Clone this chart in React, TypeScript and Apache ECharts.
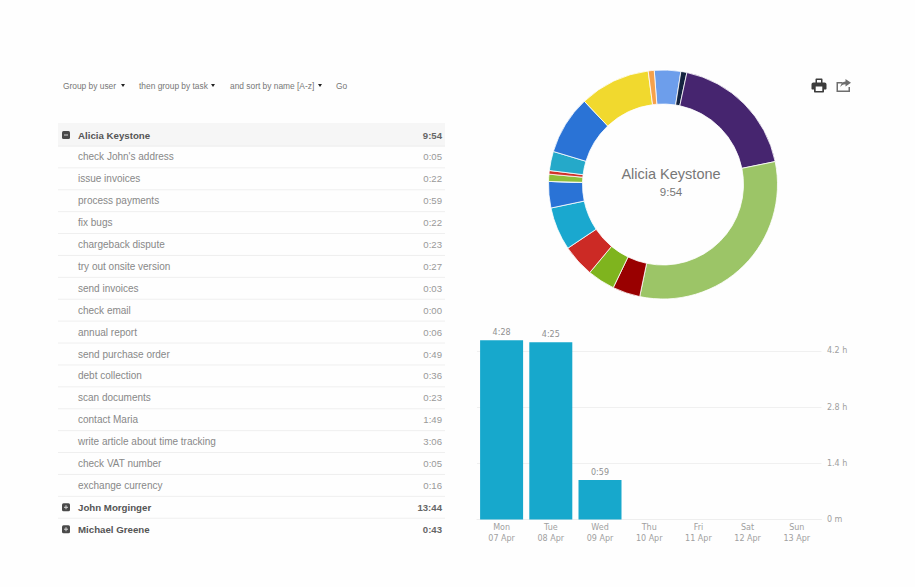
import React, { useEffect, useRef } from "react";
import * as echarts from "echarts";

const toolbarLabels = ["Group by user", "then group by task", "and sort by name [A-z]", "Go"];
const userNames = ["Alicia Keystone", "John Morginger", "Michael Greene"];
const userTotals = ["9:54", "13:44", "0:43"];
const taskNames = [
  "check John's address", "issue invoices", "process payments", "fix bugs",
  "chargeback dispute", "try out onsite version", "send invoices", "check email",
  "annual report", "send purchase order", "debt collection", "scan documents",
  "contact Maria", "write article about time tracking", "check VAT number", "exchange currency",
];
const taskTimes = [
  "0:05", "0:22", "0:59", "0:22", "0:23", "0:27", "0:03", "0:00",
  "0:06", "0:49", "0:36", "0:23", "1:49", "3:06", "0:05", "0:16",
];
// Donut slices run clockwise from just left of twelve o'clock.
const sliceTasks = [
  "issue invoices", "check John's address", "contact Maria", "write article about time tracking",
  "scan documents", "chargeback dispute", "try out onsite version", "debt collection",
  "fix bugs", "check email", "annual report", "send invoices", "exchange currency",
  "send purchase order", "process payments", "check VAT number",
];
const sliceColors = [
  "#6d9eeb", "#14233f", "#46256f", "#9cc567", "#990000", "#7fb41e", "#cc2a25", "#1aa8cf",
  "#2a73d6", "#e0a030", "#8fbf3a", "#d0332b", "#25a9c9", "#2a73d6", "#f1d92e", "#f6a14b",
];
const dayLabels = ["Mon\n07 Apr", "Tue\n08 Apr", "Wed\n09 Apr", "Thu\n10 Apr", "Fri\n11 Apr", "Sat\n12 Apr", "Sun\n13 Apr"];
const dayTotals = ["4:28", "4:25", "0:59", "0:00", "0:00", "0:00", "0:00"];

const minutes = (t: string) => {
  const [h, m] = t.split(":").map(Number);
  return h * 60 + m;
};
const SANS = "'Liberation Sans', Arial, sans-serif";
const ROW_TOP = 135;
const ROW_STEP = 21.9;

const PRINT_ICON =
  "M5 0H10C10.6 0 11 .4 11 1V4H13C14.2 4 15 4.8 15 6V10C15 10.6 14.6 11 14 11H12.5V13C12.5 13.6 12.1 14 11.5 14H3.5C2.9 14 2.5 13.6 2.5 13V11H1C.4 11 0 10.6 0 10V6C0 4.8 .8 4 2 4H4V1C4 .4 4.4 0 5 0ZM5.5 1.5V4H9.5V1.5ZM4.2 8V12.4H10.8V8Z";
const SHARE_ICON =
  "M0 3H6V4.5H1.5V11.5H12V8H13.5V13H0ZM9 0L14.5 3.8L9 7.5V5.2C6.5 5.2 4.8 6.2 3.8 8.2C4.2 5 6 3 9 2.6Z";
echarts.graphic.registerShape("printGlyph", echarts.graphic.extendPath(PRINT_ICON, {}) as any);
echarts.graphic.registerShape("shareGlyph", echarts.graphic.extendPath(SHARE_ICON, {}) as any);

function buildTableGraphics() {
  const out: any[] = [];
  const label = (x: number, y: number, text: string, fill: string, size: number, weight = "normal", align = "left") => ({
    type: "text",
    x,
    y,
    silent: true,
    style: { text, fill, font: `${weight} ${size}px ${SANS}`, align, verticalAlign: "middle" },
  });
  const rule = (y: number) => ({
    type: "line",
    silent: true,
    shape: { x1: 58, y1: y, x2: 445, y2: y },
    style: { stroke: "#efefef", lineWidth: 1 },
  });
  const toggle = (y: number, open: boolean) => {
    const parts: any[] = [
      { type: "rect", silent: true, shape: { x: 62, y: y - 4, width: 8, height: 8, r: 1.5 }, style: { fill: "#4a4a4a" } },
      { type: "rect", silent: true, shape: { x: 64, y: y - 0.5, width: 4, height: 1 }, style: { fill: "#d8d8d8" } },
    ];
    if (!open) {
      parts.push({ type: "rect", silent: true, shape: { x: 65.5, y: y - 2, width: 1, height: 4 }, style: { fill: "#d8d8d8" } });
    }
    return parts;
  };

  // Header strip behind the expanded user.
  out.push({ type: "rect", silent: true, shape: { x: 58, y: 123, width: 387, height: 24 }, style: { fill: "#f6f6f6" } });

  const rows = [
    { name: userNames[0], time: userTotals[0], user: true, open: true },
    ...taskNames.map((name, i) => ({ name, time: taskTimes[i], user: false, open: false })),
    { name: userNames[1], time: userTotals[1], user: true, open: false },
    { name: userNames[2], time: userTotals[2], user: true, open: false },
  ];
  rows.forEach((row, i) => {
    const y = ROW_TOP + i * ROW_STEP;
    if (i < rows.length - 1) out.push(rule(y + ROW_STEP / 2));
    if (row.user) out.push(...toggle(y, row.open));
    out.push(label(78, y, row.name, row.user ? "#555555" : "#888888", row.user ? 9.7 : 10, row.user ? "bold" : "normal"));
    out.push(label(442, y, row.time, row.user ? "#666666" : "#999999", 9.6, row.user ? "bold" : "normal", "right"));
  });

  // Toolbar above the table.
  const toolbarX = [63, 139, 230, 336];
  const caretX = [123, 213, 320];
  toolbarLabels.forEach((text, i) => out.push(label(toolbarX[i], 85.5, text, "#777777", 8.4)));
  caretX.forEach((x) =>
    out.push({
      type: "polygon",
      silent: true,
      shape: { points: [[x - 2, 84], [x + 2, 84], [x, 87]] },
      style: { fill: "#222" },
    }),
  );

  // Caption in the donut hole.
  out.push(label(671, 173.5, userNames[0], "#777777", 14.5, "normal", "center"));
  out.push(label(671, 192, userTotals[0], "#777777", 11.5, "normal", "center"));

  out.push({ type: "printGlyph", x: 811.5, y: 78.5, style: { fill: "#3c3c3c" }, silent: true });
  out.push({ type: "shareGlyph", x: 836.5, y: 79, style: { fill: "#6e6e6e" }, silent: true });
  return out;
}

export default function App() {
  const ref = useRef<HTMLDivElement>(null);

  useEffect(() => {
    document.body.style.margin = "0";
    const chart = echarts.init(ref.current!, null, { renderer: "svg" });
    const timeOf = (name: string) => minutes(taskTimes[taskNames.indexOf(name)]);
    chart.setOption({
      animation: false,
      backgroundColor: "#fefefe",
      grid: { left: 477, width: 344.4, top: 322.8, height: 196.7 },
      xAxis: {
        type: "category",
        data: dayLabels,
        axisLine: { lineStyle: { color: "#eeeeee" } },
        axisTick: { show: false },
        axisLabel: { color: "#a0a0a0", fontSize: 8, fontFamily: "'DejaVu Sans'", lineHeight: 11, margin: 2, interval: 0 },
      },
      yAxis: {
        type: "value",
        position: "right",
        min: 0,
        max: 4.9,
        interval: 1.4,
        axisLine: { show: false },
        axisTick: { show: false },
        splitLine: { showMaxLine: false, lineStyle: { color: "#f0f0f0" } },
        axisLabel: {
          showMaxLabel: false,
          color: "#a0a0a0",
          fontSize: 8,
          fontFamily: "'DejaVu Sans'",
          margin: 5.5,
          formatter: (v: number) => (v === 0 ? "0 m" : `${v.toFixed(1)} h`),
        },
      },
      series: [
        {
          type: "pie",
          silent: true,
          center: [663, 184.5],
          radius: [80.5, 114.5],
          startAngle: 94.4,
          label: { show: false },
          labelLine: { show: false },
          itemStyle: { borderColor: "#ffffff", borderWidth: 0.8 },
          data: sliceTasks.map((name, i) => ({
            name,
            value: timeOf(name),
            itemStyle: { color: sliceColors[i] },
          })),
        },
        {
          type: "bar",
          silent: true,
          barWidth: 43,
          itemStyle: { color: "#17a8cc" },
          label: {
            show: true,
            position: "top",
            distance: 4,
            color: "#909090",
            fontSize: 8,
            fontFamily: "'DejaVu Sans'",
            formatter: (p: any) => (p.value > 0 ? dayTotals[p.dataIndex] : ""),
          },
          data: dayTotals.map((t) => minutes(t) / 60),
        },
      ],
      graphic: { elements: buildTableGraphics() },
    });
    return () => chart.dispose();
  }, []);

  return <div ref={ref} style={{ position: "fixed", left: 0, top: 0, width: 915, height: 587 }} />;
}
